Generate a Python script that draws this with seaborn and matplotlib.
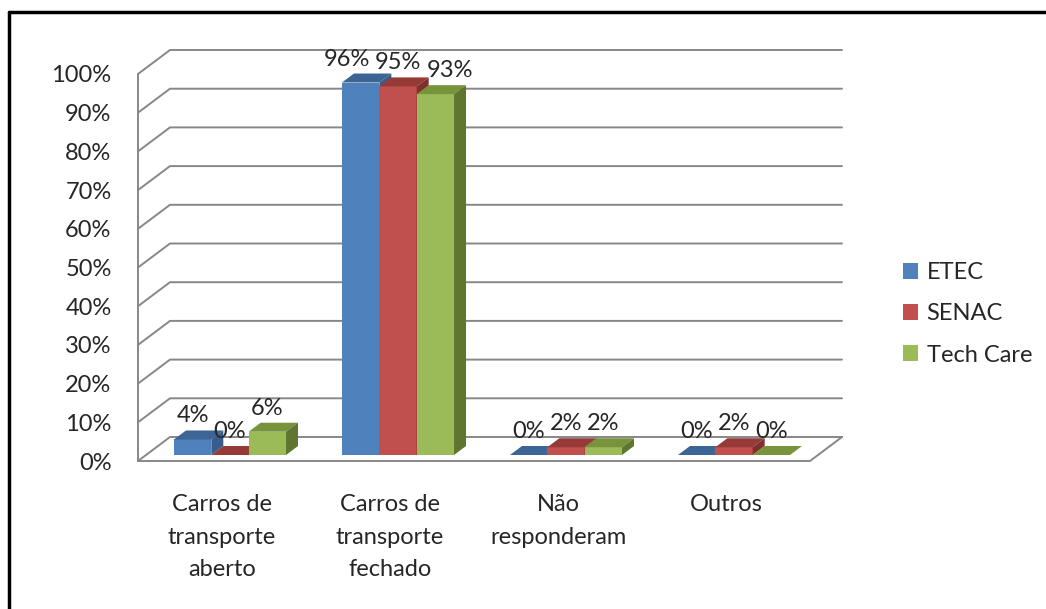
import matplotlib.pyplot as plt
import seaborn as sns
import numpy as np
import pandas as pd
from matplotlib.patches import Polygon
from matplotlib.lines import Line2D

categorias = ["Carros de\ntransporte\naberto", "Carros de\ntransporte\nfechado",
              "Não\nresponderam", "Outros"]
escolas = ["ETEC", "SENAC", "Tech Care"]
etec = [4, 96, 0, 0]
senac = [0, 95, 2, 2]
tech_care = [6, 93, 2, 0]
yticks = list(range(0, 101, 10))

cores = {"ETEC": "#4F81BD", "SENAC": "#C0504D", "Tech Care": "#9BBB59"}
topo = {"ETEC": "#3C6494", "SENAC": "#953A37", "Tech Care": "#77933C"}
lado = {"ETEC": "#385D8A", "SENAC": "#7F302E", "Tech Care": "#5F7530"}

df = pd.DataFrame({
    "categoria": list(range(len(categorias))) * 3,
    "valor": etec + senac + tech_care,
    "escola": np.repeat(escolas, len(categorias)),
})

sns.set_style("white")
plt.rcParams["font.family"] = ["Lato", "DejaVu Sans"]
FS = 17

W, H = 1046, 609
fig = plt.figure(figsize=(W / 100, H / 100), dpi=100)

def rect(x0, ytop, x1, ybot):
    return [x0 / W, 1 - ybot / H, (x1 - x0) / W, (ybot - ytop) / H]

# front plane axes (ticks, walls) and bar plane axes (bars sit at mid depth)
ax = fig.add_axes(rect(138, 74, 810, 461))
axb = fig.add_axes(rect(146, 67, 818, 455))
for a in (ax, axb):
    a.set_xlim(-0.5, 3.5)
    a.set_ylim(0, 100)
    for s in a.spines.values():
        s.set_visible(False)
    a.patch.set_alpha(0)
axb.set_axis_off()

def shift(a, x, y, dx, dy):
    d = a.transData.transform((x, y)) + np.array([dx, dy])
    return a.transData.inverted().transform(d)

grid_c = "#878787"
DEPTH = (32, 24)
# walls and gridlines
for v in yticks:
    p1 = shift(ax, -0.5, v, *DEPTH)
    p2 = shift(ax, 3.5, v, *DEPTH)
    ax.plot([-0.5, p1[0], p2[0]], [v, p1[1], p2[1]], color=grid_c, lw=1.4,
            clip_on=False, zorder=1)
ax.plot([-0.5, -0.5], [0, 100], color=grid_c, lw=1.4, clip_on=False, zorder=1)
fr = shift(ax, 3.5, 0, *DEPTH)
ax.plot([-0.5, 3.5, fr[0]], [0, 0, fr[1]], color=grid_c, lw=1.4, clip_on=False, zorder=1)

ax.set_yticks(yticks)
ax.set_yticklabels([f"{v}%" for v in yticks], fontsize=FS)
ax.set_xticks(range(len(categorias)))
ax.set_xticklabels(categorias, fontsize=FS, linespacing=1.68)
ax.tick_params(axis="y", length=0, pad=19)
ax.tick_params(axis="x", length=0, pad=24)
ax.set_xlabel("")
ax.set_ylabel("")

sns.barplot(data=df, x="categoria", y="valor", hue="escola", hue_order=escolas,
            palette=cores, width=0.667, gap=0, saturation=1, ax=axb,
            linewidth=0, legend=True)
axb.set_xlim(-0.5, 3.5)
axb.set_ylim(0, 100)
handles, labels = axb.get_legend_handles_labels()
axb.get_legend().remove()

BAR_D = (12, 9)
bars = [p for p in axb.patches if p.get_width() > 0]
bars.sort(key=lambda p: p.get_x())
nudge = {96: -14, 93: 15}
for i, p in enumerate(bars):
    x, w, h = p.get_x(), p.get_width(), p.get_height()
    hexc = "#%02X%02X%02X" % tuple(int(round(c * 255)) for c in p.get_facecolor()[:3])
    nome = [k for k, c in cores.items() if c.upper() == hexc][0]
    z = 3 + i * 0.01
    p.set_zorder(z)
    tl = shift(axb, x, h, *BAR_D)
    tr = shift(axb, x + w, h, *BAR_D)
    br = shift(axb, x + w, 0, *BAR_D)
    axb.add_patch(Polygon([(x, h), (x + w, h), tr, tl], closed=True,
                          facecolor=topo[nome], lw=0, zorder=z, clip_on=False))
    axb.add_patch(Polygon([(x + w, 0), (x + w, h), tr, br], closed=True,
                          facecolor=lado[nome], lw=0, zorder=z, clip_on=False))
    dx = nudge.get(int(h), 0) if h > 90 else 0
    lx, ly = shift(axb, x + w / 2, h, dx, BAR_D[1] + 8)
    axb.text(lx, ly, f"{int(h)}%", ha="center", va="baseline", fontsize=FS,
             zorder=10, clip_on=False)

fig.legend(handles, labels, loc="center left",
           bbox_to_anchor=(903 / W, 1 - 314 / H), frameon=False, fontsize=FS,
           handlelength=0.65, handleheight=0.65, handletextpad=0.35,
           labelspacing=0.85, borderpad=0, borderaxespad=0)

# outer chart border (top and left edges visible)
fig.add_artist(Line2D([9 / W, 9 / W], [0, 1 - 12 / H], color="black", lw=2.5,
                      transform=fig.transFigure))
fig.add_artist(Line2D([9 / W, 1], [1 - 12 / H, 1 - 12 / H], color="black", lw=2.5,
                      transform=fig.transFigure))

fig.savefig("out.png", dpi=100)
